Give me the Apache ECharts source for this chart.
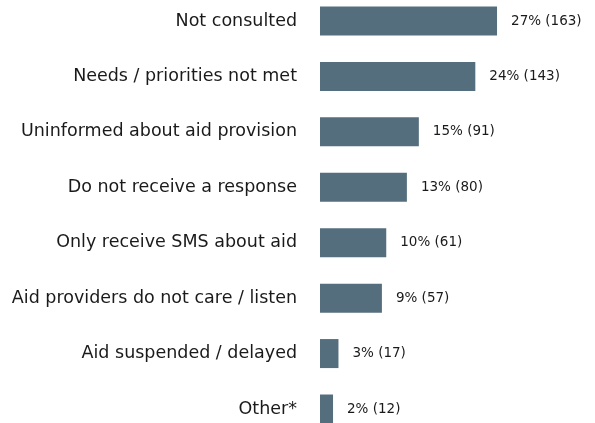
<!DOCTYPE html>
<html><head><meta charset="utf-8">
<script src="https://cdn.jsdelivr.net/npm/echarts@6/dist/echarts.min.js"></script>
<style>html,body{margin:0;padding:0;background:#fff}#c{width:595px;height:423px}</style>
</head><body><div id="c"></div>
<script>
const categories = ["Not consulted","Needs / priorities not met","Uninformed about aid provision","Do not receive a response","Only receive SMS about aid","Aid providers do not care / listen","Aid suspended / delayed","Other*"];
const percents = [27,24,15,13,10,9,3,2];
const counts = [163,143,91,80,61,57,17,12];

const chart = echarts.init(document.getElementById('c'), null, {renderer:'canvas'});
chart.setOption({
  animation:false,
  grid:{left:320, width:195.5, top:21, bottom:14, containLabel:false},
  xAxis:{type:'value', min:0, max:180, show:false},
  yAxis:{type:'category', data:categories, inverse:true, boundaryGap:false,
    axisLine:{show:false}, axisTick:{show:false}, splitLine:{show:false},
    axisLabel:{margin:23, fontSize:17.5, color:'#1a1a1a', fontFamily:'DejaVu Sans'}},
  series:[{type:'bar', data:counts, barWidth:29,
    itemStyle:{color:'#546e7d'},
    label:{show:true, position:'right', distance:14, fontSize:13.5, color:'#1a1a1a', fontFamily:'DejaVu Sans',
      formatter:p=>percents[p.dataIndex]+'% ('+counts[p.dataIndex]+')'}}]
});
</script></body></html>
